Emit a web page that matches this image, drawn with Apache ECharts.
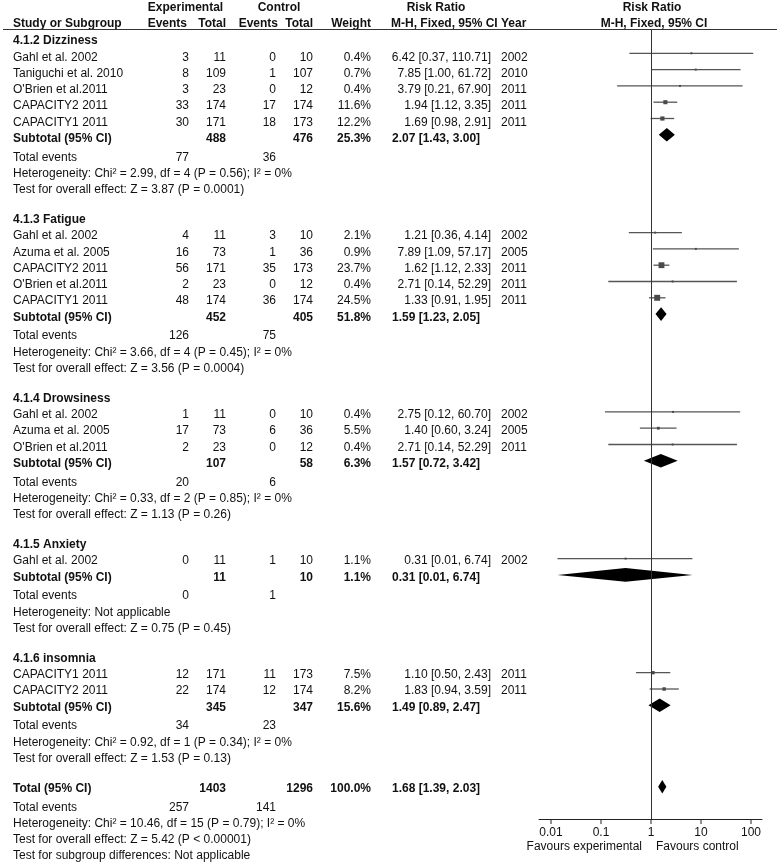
<!DOCTYPE html>
<html>
<head>
<meta charset="utf-8">
<script src="https://cdn.jsdelivr.net/npm/echarts@6/dist/echarts.min.js"></script>
<style>
  html, body { margin: 0; padding: 0; background: #fff; }
  #chart { width: 777px; height: 864px; }
</style>
</head>
<body>
<div id="chart"></div>
<script>
// --- data ---
const groupNames = ["4.1.2 Dizziness", "4.1.3 Fatigue", "4.1.4 Drowsiness", "4.1.5 Anxiety", "4.1.6 insomnia"];
const groupOf = [0, 0, 0, 0, 0, 1, 1, 1, 1, 1, 2, 2, 2, 3, 4, 4];
const studyNames = [
  "Gahl et al. 2002", "Taniguchi et al. 2010", "O'Brien et al.2011", "CAPACITY2 2011", "CAPACITY1 2011",
  "Gahl et al. 2002", "Azuma et al. 2005", "CAPACITY2 2011", "O'Brien et al.2011", "CAPACITY1 2011",
  "Gahl et al. 2002", "Azuma et al. 2005", "O'Brien et al.2011",
  "Gahl et al. 2002",
  "CAPACITY1 2011", "CAPACITY2 2011",
];
const expEvents = [3, 8, 3, 33, 30, 4, 16, 56, 2, 48, 1, 17, 2, 0, 12, 22];
const expTotal = [11, 109, 23, 174, 171, 11, 73, 171, 23, 174, 11, 73, 23, 11, 171, 174];
const ctrlEvents = [0, 1, 0, 17, 18, 3, 1, 35, 0, 36, 0, 6, 0, 1, 11, 12];
const ctrlTotal = [10, 107, 12, 174, 173, 10, 36, 173, 12, 174, 10, 36, 12, 10, 173, 174];
const weights = [0.4, 0.7, 0.4, 11.6, 12.2, 2.1, 0.9, 23.7, 0.4, 24.5, 0.4, 5.5, 0.4, 1.1, 7.5, 8.2];
const rr = [6.42, 7.85, 3.79, 1.94, 1.69, 1.21, 7.89, 1.62, 2.71, 1.33, 2.75, 1.40, 2.71, 0.31, 1.10, 1.83];
const rrLow = [0.37, 1.00, 0.21, 1.12, 0.98, 0.36, 1.09, 1.12, 0.14, 0.91, 0.12, 0.60, 0.14, 0.0135, 0.50, 0.94];
const rrHigh = [110.71, 61.72, 67.90, 3.35, 2.91, 4.14, 57.17, 2.33, 52.29, 1.95, 60.70, 3.24, 52.29, 6.74, 2.43, 3.59];
const years = [2002, 2010, 2011, 2011, 2011, 2002, 2005, 2011, 2011, 2011, 2002, 2005, 2011, 2002, 2011, 2011];

const subExpTotal = [488, 452, 107, 11, 345];
const subCtrlTotal = [476, 405, 58, 10, 347];
const subWeight = [25.3, 51.8, 6.3, 1.1, 15.6];
const subRR = [2.07, 1.59, 1.57, 0.31, 1.49];
const subLow = [1.43, 1.23, 0.72, 0.0135, 0.89];
const subHigh = [3.00, 2.05, 3.42, 6.74, 2.47];
const subExpEvents = [77, 126, 20, 0, 34];
const subCtrlEvents = [36, 75, 6, 1, 23];
const subHetero = [
  "Heterogeneity: Chi² = 2.99, df = 4 (P = 0.56); I² = 0%",
  "Heterogeneity: Chi² = 3.66, df = 4 (P = 0.45); I² = 0%",
  "Heterogeneity: Chi² = 0.33, df = 2 (P = 0.85); I² = 0%",
  "Heterogeneity: Not applicable",
  "Heterogeneity: Chi² = 0.92, df = 1 (P = 0.34); I² = 0%",
];
const subEffect = [
  "Test for overall effect: Z = 3.87 (P = 0.0001)",
  "Test for overall effect: Z = 3.56 (P = 0.0004)",
  "Test for overall effect: Z = 1.13 (P = 0.26)",
  "Test for overall effect: Z = 0.75 (P = 0.45)",
  "Test for overall effect: Z = 1.53 (P = 0.13)",
];

const totalExp = 1403;
const totalCtrl = 1296;
const totalWeight = 100.0;
const totalRR = [1.68, 1.39, 2.03];
const totalEvents = [257, 141];
const totalNotes = [
  "Heterogeneity: Chi² = 10.46, df = 15 (P = 0.79); I² = 0%",
  "Test for overall effect: Z = 5.42 (P < 0.00001)",
  "Test for subgroup differences: Not applicable",
];
const tickValues = [0.01, 0.1, 1, 10, 100];

// --- layout ---
const TEXT_ROW = 16.25;
const TEXT_Y0 = 41;   // text centre of row 0
const PLOT_ROW = 16.3;
const PLOT_Y0 = 37;   // mark centre of row 0
const PLOT_TOP = 29, PLOT_BOTTOM = 819;
const FOOT = 0.15;    // small extra gap below each subtotal line
const FONT = '"Liberation Sans", Arial, sans-serif';
const FS = 12;
const COL = { name: 13, expEv: 189, expTot: 226, ctrlEv: 276, ctrlTot: 313, weight: 371, rr: 491, year: 501, rrSub: 392 };

const fmtRR = (m, l, h) => `${m.toFixed(2)} [${l.toFixed(2)}, ${h.toFixed(2)}]`;

const cells = [];
const cell = (x, r, text, align, bold) => cells.push({ x, r, text: String(text), align, bold: !!bold });

const studyMarks = [];
const diamondMarks = [];

// headers
cell(185.5, -2.05, "Experimental", "center", true);
cell(279, -2.05, "Control", "center", true);
cell(436, -2.05, "Risk Ratio", "center", true);
cell(652, -2.05, "Risk Ratio", "center", true);
cell(COL.name, -1.08, "Study or Subgroup", "left", true);
cell(187, -1.08, "Events", "right", true);
cell(226, -1.08, "Total", "right", true);
cell(278, -1.08, "Events", "right", true);
cell(313, -1.08, "Total", "right", true);
cell(371, -1.08, "Weight", "right", true);
cell(391, -1.08, "M-H, Fixed, 95% CI Year", "left", true);
cell(654, -1.08, "M-H, Fixed, 95% CI", "center", true);

let r = 0;
groupNames.forEach((g, gi) => {
  cell(COL.name, r, g, "left", true);
  r++;
  studyNames.forEach((name, i) => {
    if (groupOf[i] !== gi) return;
    cell(COL.name, r, name, "left");
    cell(COL.expEv, r, expEvents[i], "right");
    cell(COL.expTot, r, expTotal[i], "right");
    cell(COL.ctrlEv, r, ctrlEvents[i], "right");
    cell(COL.ctrlTot, r, ctrlTotal[i], "right");
    cell(COL.weight, r, weights[i].toFixed(1) + "%", "right");
    cell(COL.rr, r, fmtRR(rr[i], rrLow[i], rrHigh[i]), "right");
    cell(COL.year, r, years[i], "left");
    studyMarks.push([rr[i], r, rrLow[i], rrHigh[i], weights[i]]);
    r++;
  });
  cell(COL.name, r, "Subtotal (95% CI)", "left", true);
  cell(COL.expTot, r, subExpTotal[gi], "right", true);
  cell(COL.ctrlTot, r, subCtrlTotal[gi], "right", true);
  cell(COL.weight, r, subWeight[gi].toFixed(1) + "%", "right", true);
  cell(COL.rrSub, r, fmtRR(subRR[gi], subLow[gi], subHigh[gi]), "left", true);
  diamondMarks.push([subRR[gi], r, subLow[gi], subHigh[gi]]);
  r++;
  cell(COL.name, r + FOOT, "Total events", "left");
  cell(COL.expEv, r + FOOT, subExpEvents[gi], "right");
  cell(COL.ctrlEv, r + FOOT, subCtrlEvents[gi], "right");
  r++;
  cell(COL.name, r + FOOT, subHetero[gi], "left");
  r++;
  cell(COL.name, r + FOOT, subEffect[gi], "left");
  r += 2;
});

cell(COL.name, r, "Total (95% CI)", "left", true);
cell(COL.expTot, r, totalExp, "right", true);
cell(COL.ctrlTot, r, totalCtrl, "right", true);
cell(COL.weight, r, totalWeight.toFixed(1) + "%", "right", true);
cell(COL.rrSub, r, fmtRR(totalRR[0], totalRR[1], totalRR[2]), "left", true);
diamondMarks.push([totalRR[0], r, totalRR[1], totalRR[2]]);
r++;
cell(COL.name, r + FOOT, "Total events", "left");
cell(COL.expEv, r + FOOT, totalEvents[0], "right");
cell(COL.ctrlEv, r + FOOT, totalEvents[1], "right");
r++;
totalNotes.forEach(t => { cell(COL.name, r + FOOT, t, "left"); r++; });

cell(642, 49.6, "Favours experimental", "right");
cell(656, 49.6, "Favours control", "left");

const plotRowMax = (PLOT_BOTTOM - PLOT_Y0) / PLOT_ROW;

const chart = echarts.init(document.getElementById("chart"));

const option = {
  backgroundColor: "#fff",
  animation: false,
  grid: [
    { left: 0, top: 0, width: 777, height: 864 },
    { left: 551, top: PLOT_TOP, width: 200, height: PLOT_BOTTOM - PLOT_TOP },
    { left: 539, top: PLOT_TOP, width: 223, height: PLOT_BOTTOM - PLOT_TOP },
  ],
  xAxis: [
    { gridIndex: 0, type: "value", min: 0, max: 777, show: false },
    {
      gridIndex: 1,
      type: "log",
      logBase: 10,
      position: "bottom",
      min: tickValues[0],
      max: tickValues[tickValues.length - 1],
      axisLine: { show: true, onZero: false, lineStyle: { color: "#222", width: 1 } },
      axisTick: { show: false },
      axisLabel: {
        color: "#111",
        fontFamily: FONT,
        fontSize: FS,
        margin: 8,
        formatter: v => String(+(+v).toPrecision(2)),
      },
      splitLine: { show: false },
    },
    {
      gridIndex: 2,
      type: "value",
      position: "bottom",
      min: 0,
      max: 1,
      axisLine: { show: true, onZero: false, lineStyle: { color: "#222", width: 1 } },
      axisTick: { show: false },
      axisLabel: { show: false },
      splitLine: { show: false },
    },
  ],
  yAxis: [
    { gridIndex: 0, type: "value", inverse: true, min: -TEXT_Y0 / TEXT_ROW, max: (864 - TEXT_Y0) / TEXT_ROW, show: false },
    { gridIndex: 1, type: "value", inverse: true, min: (PLOT_TOP - PLOT_Y0) / PLOT_ROW, max: plotRowMax, show: false },
    { gridIndex: 2, type: "value", min: 0, max: 1, show: false },
  ],
  graphic: [
    {
      type: "line",
      shape: { x1: 3, y1: 29.5, x2: 777, y2: 29.5 },
      style: { stroke: "#333", lineWidth: 1.2 },
      z: 10,
    },
  ],
  series: [
    {
      name: "table",
      type: "custom",
      xAxisIndex: 0,
      yAxisIndex: 0,
      silent: true,
      data: cells.map(c => [c.x, c.r]),
      renderItem: (params, api) => {
        const c = cells[params.dataIndex];
        const p = api.coord([api.value(0), api.value(1)]);
        return {
          type: "text",
          x: p[0],
          y: p[1],
          style: {
            text: c.text,
            align: c.align,
            textAlign: c.align,
            verticalAlign: "middle",
            textVerticalAlign: "middle",
            font: `${c.bold ? "bold " : ""}${FS}px ${FONT}`,
            fill: "#111",
          },
        };
      },
    },
    {
      // tick marks under the log axis
      name: "ticks",
      type: "custom",
      xAxisIndex: 1,
      yAxisIndex: 1,
      silent: true,
      clip: false,
      data: tickValues.map(v => [v, plotRowMax]),
      renderItem: (params, api) => {
        const p = api.coord([api.value(0), api.value(1)]);
        return {
          type: "line",
          shape: { x1: p[0], y1: p[1], x2: p[0], y2: p[1] + 5 },
          style: { stroke: "#222", lineWidth: 1 },
        };
      },
    },
    {
      name: "studies",
      type: "custom",
      xAxisIndex: 1,
      yAxisIndex: 1,
      silent: true,
      data: studyMarks,
      renderItem: (params, api) => {
        const c = api.coord([api.value(0), api.value(1)]);
        const lo = api.coord([api.value(2), api.value(1)]);
        const hi = api.coord([api.value(3), api.value(1)]);
        const s = Math.max(2, 1.2 * Math.sqrt(api.value(4)));
        return {
          type: "group",
          children: [
            {
              type: "line",
              shape: { x1: lo[0], y1: c[1], x2: hi[0], y2: c[1] },
              style: { stroke: "#555", lineWidth: 1.3 },
            },
            {
              type: "rect",
              shape: { x: c[0] - s / 2, y: c[1] - s / 2, width: s, height: s },
              style: { fill: "#4a4a4a" },
            },
          ],
        };
      },
      markLine: {
        silent: true,
        symbol: "none",
        label: { show: false },
        lineStyle: { color: "#333", width: 1, type: "solid" },
        data: [{ xAxis: 1 }],
      },
    },
    {
      name: "diamonds",
      type: "custom",
      xAxisIndex: 1,
      yAxisIndex: 1,
      silent: true,
      data: diamondMarks,
      renderItem: (params, api) => {
        const c = api.coord([api.value(0), api.value(1)]);
        const lo = api.coord([api.value(2), api.value(1)]);
        const hi = api.coord([api.value(3), api.value(1)]);
        const h = 6.8;
        return {
          type: "polygon",
          shape: { points: [[lo[0], c[1]], [c[0], c[1] - h], [hi[0], c[1]], [c[0], c[1] + h]] },
          style: { fill: "#000" },
        };
      },
    },
  ],
};

chart.setOption(option);
</script>
</body>
</html>
